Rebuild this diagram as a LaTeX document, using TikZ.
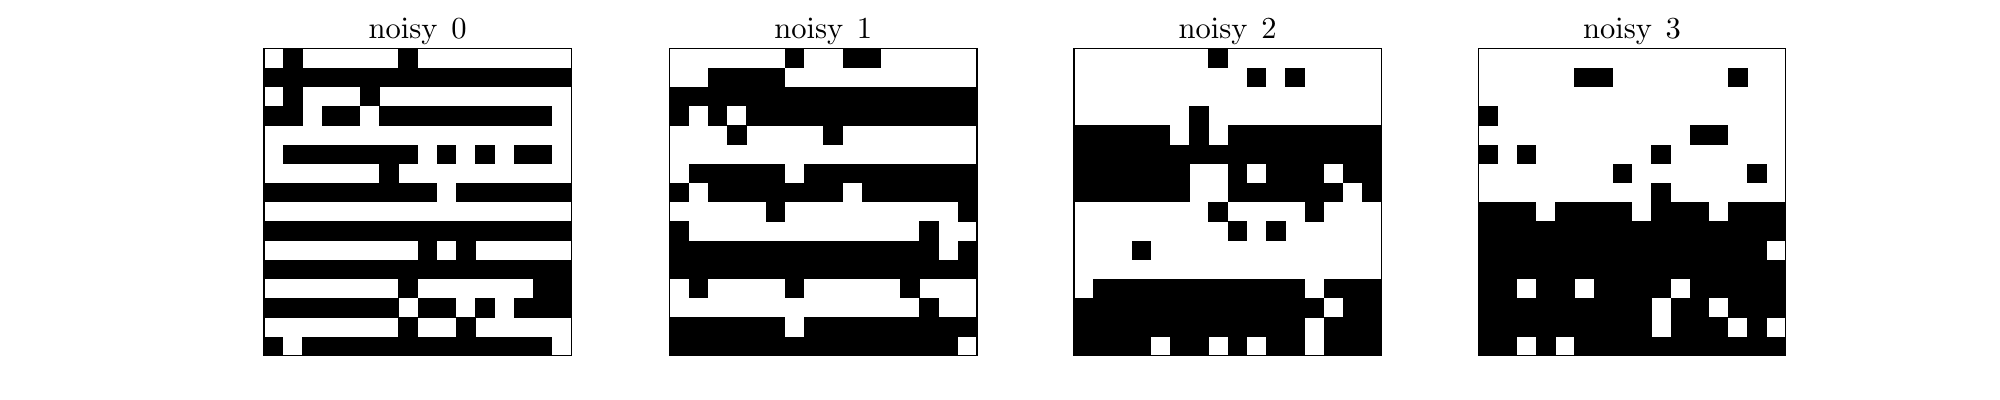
\documentclass[tikz,border=0pt]{standalone}
\newcount\cellx
\font\titlefont=cmr10 at 22pt
\def\gridx{0}
\def\gridy{48.5}
\def\cs{19.21}
\def\parsebits#1{\ifx#1\relax\else
  \ifnum#1=1 \fill[black] ({\gridx+\the\cellx*\cs},{\gridy+\rowidx*\cs}) rectangle ++({\cs+0.25},{\cs+0.25});\fi
  \advance\cellx by 1
  \expandafter\parsebits\fi}
\tikzset{
  titletext/.style={anchor=base,font=\titlefont,inner sep=0pt},
  gridframe/.style={draw=black,line width=0.8pt}
}
\newcommand\bitgrid[4]{% #1 name, #2 x0, #3 title, #4 rows
  \def\gridx{#2}
  \foreach \r [count=\j from 0] in {#4} {
    \pgfmathtruncatemacro\rowidx{\j}
    \cellx=0
    \expandafter\parsebits\r\relax
  }
  \node[gridframe,minimum width=16*\cs*0.72pt,minimum height=16*\cs*0.72pt,inner sep=0pt,outer sep=0pt,anchor=north west] (#1) at (#2,\gridy) {};
  \node[titletext] (#1t) at ({#2+8*\cs},38.3) {\spaceskip=9.9pt\relax #3};
}
\begin{document}
\begin{tikzpicture}[x=0.72pt,y=-0.72pt]
\useasboundingbox (0,0) rectangle (2000,400);
\bitgrid{g0}{264}{noisy 0}{
0100000100000000,
1111111111111111,
0100010000000000,
1101101111111110,
0000000000000000,
0111111101010110,
0000001000000000,
1111111110111111,
0000000000000000,
1111111111111111,
0000000010100000,
1111111111111111,
0000000100000011,
1111111011010111,
0000000100100000,
1011111111111110}
\bitgrid{g1}{669.6}{noisy 1}{
0000001001100000,
0011110000000000,
1111111111111111,
1010111111111111,
0001000010000000,
0000000000000000,
0111110111111111,
1011111110111111,
0000010000000001,
1000000000000100,
1111111111111101,
1111111111111111,
0100001000001000,
0000000000000100,
1111110111111111,
1111111111111110}
\bitgrid{g2}{1074}{noisy 2}{
0000000100000000,
0000000001010000,
0000000000000000,
0000001000000000,
1111101011111111,
1111111111111111,
1111110010111011,
1111110011111101,
0000000100001000,
0000000010100000,
0001000000000000,
0000000000000000,
0111111111110111,
1111111111111011,
1111111111110111,
1111011010110111}
\bitgrid{g3}{1478.4}{noisy 3}{
0000000000000000,
0000011000000100,
0000000000000000,
1000000000000000,
0000000000011000,
1010000001000000,
0000000100000010,
0000000001000000,
1110111101110111,
1111111111111111,
1111111111111110,
1111111111111111,
1101101111011111,
1111111110110111,
1111111110111010,
1101011111111111}
\end{tikzpicture}
\end{document}
